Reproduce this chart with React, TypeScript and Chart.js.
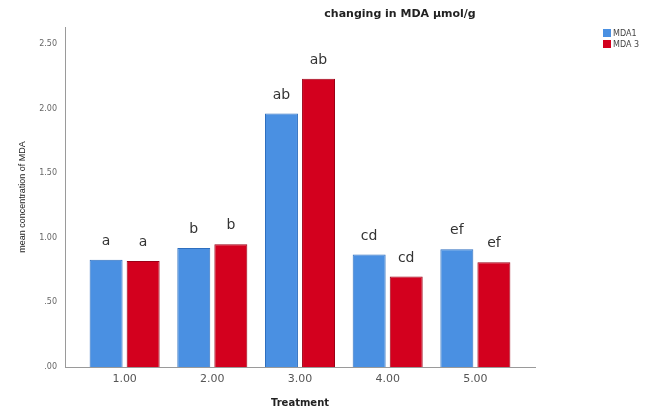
import React, { useEffect, useRef } from "react";
import { Chart, registerables } from "chart.js";

Chart.register(...registerables);

const treatments = [1, 2, 3, 4, 5];
const mda1 = [0.83, 0.92, 1.96, 0.87, 0.91];
const mda3 = [0.82, 0.95, 2.23, 0.7, 0.81];
const mda1Letters = ["a", "b", "ab", "cd", "ef"];
const mda3Letters = ["a", "b", "ab", "cd", "ef"];
const yTicks = [0, 0.5, 1, 1.5, 2, 2.5];
const seriesNames = ["MDA1", "MDA 3"];
const chartTitle = "changing in MDA \u03bcmol/g";
const xTitle = "Treatment";
const yTitle = "mean concentration of MDA";

const BLUE = "#4A90E2";
const BLUE_EDGE = "#2E6FBF";
const RED = "#D3001E";
const RED_EDGE = "#9C0016";

const letterPlugin = {
  id: "letters",
  afterDatasetsDraw(chart: any) {
    const ctx = chart.ctx;
    ctx.save();
    ctx.font = "14px 'DejaVu Sans'";
    ctx.fillStyle = "#333";
    ctx.textAlign = "center";
    ctx.textBaseline = "alphabetic";
    chart.data.datasets.forEach((ds: any, di: number) => {
      const meta = chart.getDatasetMeta(di);
      const letters = ds.letters as string[];
      meta.data.forEach((el: any, i: number) => {
        ctx.fillText(letters[i], el.x, el.y - 15);
      });
    });
    ctx.restore();
  },
};

const titleLegendPlugin = {
  id: "titleLegend",
  afterDraw(chart: any) {
    const ctx = chart.ctx;
    ctx.save();
    ctx.font = "bold 11px 'DejaVu Sans'";
    ctx.fillStyle = "#222";
    ctx.textAlign = "center";
    ctx.textBaseline = "middle";
    ctx.fillText(chartTitle, 400, 14);

    ctx.font = "8px 'DejaVu Sans'";
    ctx.textAlign = "left";
    ctx.fillStyle = "#444";
    chart.data.datasets.forEach((ds: any, i: number) => {
      const y = 29 + i * 11;
      ctx.fillStyle = ds.backgroundColor;
      ctx.fillRect(603, y, 8, 8);
      ctx.fillStyle = "#444";
      ctx.fillText(ds.label, 613, y + 4.5);
    });
    ctx.restore();
  },
};

export default function App() {
  const ref = useRef<HTMLCanvasElement>(null);
  useEffect(() => {
    const chart = new Chart(ref.current as HTMLCanvasElement, {
      type: "bar",
      data: {
        datasets: [
          {
            label: seriesNames[0],
            data: treatments.map((t, i) => ({ x: t, y: mda1[i] })),
            backgroundColor: BLUE,
            borderColor: BLUE_EDGE,
            borderWidth: 1,
            letters: mda1Letters,
          } as any,
          {
            label: seriesNames[1],
            data: treatments.map((t, i) => ({ x: t, y: mda3[i] })),
            backgroundColor: RED,
            borderColor: RED_EDGE,
            borderWidth: 1,
            letters: mda3Letters,
          } as any,
        ],
      },
      options: {
        responsive: false,
        animation: false,
        categoryPercentage: 0.845,
        barPercentage: 0.89,
        layout: { padding: { left: 0, top: 27, right: 120, bottom: 0 } },
        plugins: {
          legend: { display: false },
          title: { display: false },
          tooltip: { enabled: false },
        },
        scales: {
          x: {
            type: "linear",
            offset: false,
            min: 0.32,
            max: 5.68,
            grid: { display: false, drawTicks: false, offset: false },
            border: { display: true, color: "#9a9a9a", width: 1 },
            afterBuildTicks: (s: any) => {
              s.ticks = treatments.map((v) => ({ value: v }));
            },
            afterFit: (s: any) => {
              s.height = 47;
            },
            ticks: {
              padding: 6,
              color: "#555",
              font: { family: "'DejaVu Sans'", size: 11 },
              callback: (v: any) => Number(v).toFixed(2),
            },
            title: {
              display: true,
              text: xTitle,
              color: "#222",
              font: { family: "'DejaVu Sans'", size: 10, weight: "bold" },
              padding: { top: 0, bottom: 5 },
            },
          },
          y: {
            min: 0,
            max: 2.63,
            grid: { display: false, drawTicks: false },
            border: { display: true, color: "#9a9a9a", width: 1 },
            afterBuildTicks: (s: any) => {
              s.ticks = yTicks.map((v) => ({ value: v }));
            },
            afterFit: (s: any) => {
              s.width = 65;
            },
            ticks: {
              padding: 8,
              color: "#666",
              font: { family: "'DejaVu Sans'", size: 8 },
              callback: (v: any) => {
                const s = Number(v).toFixed(2);
                return s.startsWith("0") ? s.slice(1) : s;
              },
            },
            title: {
              display: true,
              text: yTitle,
              color: "#222",
              font: { family: "'Liberation Sans'", size: 9 },
              padding: { top: 17, bottom: 0 },
            },
          },
        },
      } as any,
      plugins: [letterPlugin, titleLegendPlugin],
    });
    return () => chart.destroy();
  }, []);
  return (
    <div style={{ position: "fixed", left: 0, top: 0, width: 655, height: 414, background: "#fff" }}>
      <canvas ref={ref} width={655} height={414} style={{ display: "block", width: 655, height: 414 }} />
    </div>
  );
}
